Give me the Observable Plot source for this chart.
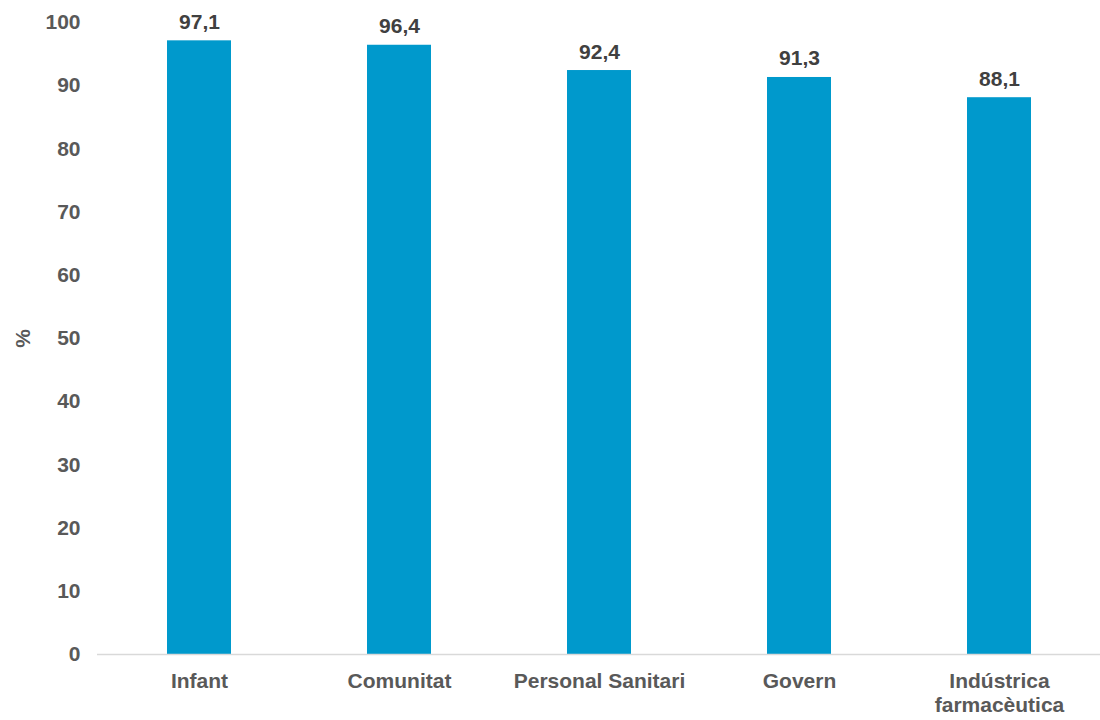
<!DOCTYPE html>
<html>
<head>
<meta charset="utf-8">
<script src="https://cdn.jsdelivr.net/npm/d3@7"></script>
<script src="https://cdn.jsdelivr.net/npm/@observablehq/plot@0.6"></script>
<style>
  html, body { margin: 0; padding: 0; background: #fff; }
  #chart svg { display: block; }
</style>
</head>
<body>
<div id="chart"></div>
<script>
const categories = ["Infant", "Comunitat", "Personal Sanitari", "Govern", "Indústrica\nfarmacèutica"];
const values = [97.1, 96.4, 92.4, 91.3, 88.1];
const yTicks = [0, 10, 20, 30, 40, 50, 60, 70, 80, 90, 100];

const data = categories.map((c, i) => ({category: c, value: values[i]}));
const fmt = v => v.toFixed(1).replace(".", ",");

const chart = Plot.plot({
  width: 1100,
  height: 720,
  marginTop: 22,
  marginBottom: 66,
  marginLeft: 97,
  marginRight: 0,
  style: {fontFamily: "'Liberation Sans', Arial, sans-serif", background: "#fff"},
  x: {domain: categories, paddingInner: 0.68, paddingOuter: 0.34, label: null},
  y: {domain: [0, 100], label: null},
  marks: [
    Plot.barY(data, {x: "category", y: "value", fill: "#0099CC"}),
    Plot.ruleY([0], {stroke: "#d9d9d9", strokeWidth: 1.5}),
    Plot.text(data, {x: "category", y: "value", text: d => fmt(d.value), lineAnchor: "bottom", dy: -12,
      fontSize: 21, fontWeight: "bold", fill: "#404040"}),
    Plot.axisY({ticks: yTicks, tickSize: 0, tickPadding: 17, fontSize: 21, fontWeight: "bold", color: "#595959",
      label: "%", labelAnchor: "center", labelArrow: false, labelOffset: 82}),
    Plot.axisX({tickSize: 0, tickPadding: 16, fontSize: 21, fontWeight: "bold", color: "#595959", lineAnchor: "top",
      lineHeight: 1.15, label: null})
  ]
});
document.getElementById("chart").append(chart);
</script>
</body>
</html>
